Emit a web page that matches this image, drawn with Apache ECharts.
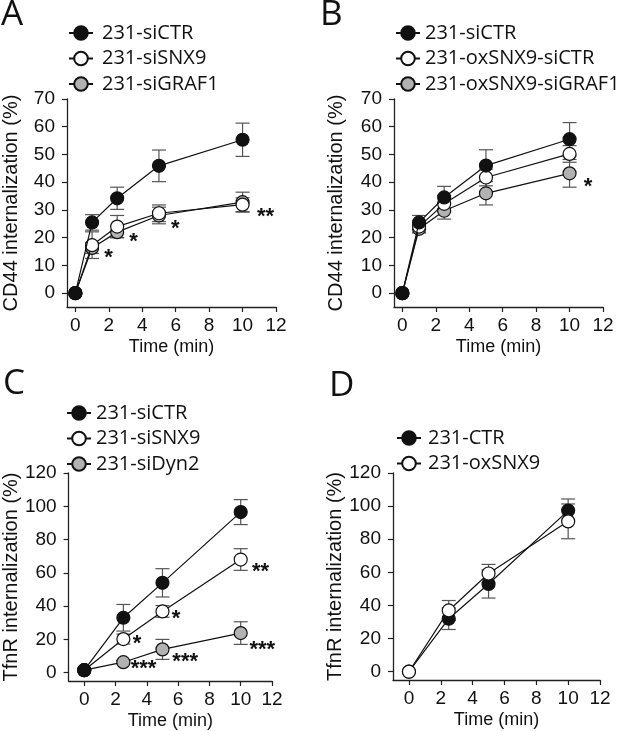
<!DOCTYPE html>
<html>
<head>
<meta charset="utf-8">
<script src="https://cdn.jsdelivr.net/npm/echarts@6/dist/echarts.min.js"></script>
<style>
html,body{margin:0;padding:0;background:#fff;}
#chart{width:633px;height:731px;}
</style>
</head>
<body>
<div id="chart"></div>
<script>
// ---------- data ----------
const xTicks = [0, 2, 4, 6, 8, 10, 12];
const yTicksCD44 = [0, 10, 20, 30, 40, 50, 60, 70];
const yTicksTfnR = [0, 20, 40, 60, 80, 100, 120];

const timeAB = [0, 1, 2.5, 5, 10];
const A_siCTR = [0, 25.5, 34.2, 45.9, 55.3];
const A_siCTR_err = [0, 2.8, 4.0, 5.7, 6.0];
const A_siSNX9 = [0, 17.3, 24.0, 28.8, 31.9];
const A_siSNX9_err = [0, 4.8, 4.0, 3.0, 2.5];
const A_siGRAF1 = [0, 16.3, 22.0, 28.0, 32.8];
const A_siGRAF1_err = [0, 2.0, 2.0, 3.0, 3.6];

const B_siCTR = [0, 25.5, 34.5, 46.0, 55.5];
const B_siCTR_err = [0, 2.5, 4.0, 5.7, 6.0];
const B_oxSNX9_siCTR = [0, 24.0, 32.2, 41.7, 50.2];
const B_oxSNX9_siCTR_err = [0, 2.0, 3.0, 3.0, 3.0];
const B_oxSNX9_siGRAF1 = [0, 23.2, 29.7, 36.0, 43.2];
const B_oxSNX9_siGRAF1_err = [0, 1.5, 3.0, 4.2, 5.0];

const timeCD = [0, 2.5, 5, 10];
const C_siCTR = [1.5, 33.0, 54.0, 96.5];
const C_siCTR_err = [0, 8.0, 8.5, 7.5];
const C_siSNX9 = [1.5, 20.2, 36.8, 68.0];
const C_siSNX9_err = [0, 3.0, 3.5, 6.5];
const C_siDyn2 = [1.5, 6.3, 14.0, 23.8];
const C_siDyn2_err = [0, 1.0, 6.0, 6.8];

const D_CTR = [0, 32.0, 53.0, 97.3];
const D_CTR_err = [0, 6.5, 8.5, 7.0];
const D_oxSNX9 = [0, 37.0, 59.3, 90.8];
const D_oxSNX9_err = [0, 6.0, 5.5, 10.5];

// significance marks: [x, y, text]
const starsA = [[1.98, 14.4, '*'], [3.48, 20.4, '*'], [5.98, 25.0, '*'], [11.37, 29.4, '**']];
const starsB = [[11.1, 40.2, '*']];
const starsC = [[3.37, 20.2, '*'], [5.86, 35.3, '*'], [11.27, 63.5, '**'],
                [3.79, 5.0, '***'], [6.45, 9.3, '***'], [11.38, 16.9, '***']];

// ---------- helpers ----------
const ARIAL = 'Liberation Sans, Arial, sans-serif';
const HUMAN = 'Open Sans, Noto Sans, sans-serif';
const INK = '#111';
const FILL = {black: '#111', white: '#fff', gray: '#b2b2b2'};

function pairs(xs, ys) { return xs.map((x, i) => [x, ys[i]]); }
function errData(xs, ys, es) {
  const out = [];
  xs.forEach((x, i) => { if (es[i] > 0) out.push([x, ys[i] - es[i], ys[i] + es[i]]); });
  return out;
}

function lineSeries(name, idx, xs, ys, fill, z) {
  return {
    type: 'line', name: name, xAxisIndex: idx, yAxisIndex: idx,
    data: pairs(xs, ys), symbol: 'circle', symbolSize: 13, z: z,
    lineStyle: {color: INK, width: 1.2},
    itemStyle: {color: fill, borderColor: INK, borderWidth: 1.2},
    emphasis: {disabled: true}, animation: false
  };
}
function errSeries(idx, xs, ys, es) {
  return {
    type: 'custom', xAxisIndex: idx, yAxisIndex: idx, z: 1, silent: true,
    data: errData(xs, ys, es), encode: {x: 0, y: [1, 2]}, animation: false,
    renderItem: function (params, api) {
      const x = api.value(0);
      const lo = api.coord([x, api.value(1)]);
      const hi = api.coord([x, api.value(2)]);
      const hw = 7;
      const st = {stroke: '#555', lineWidth: 1.2};
      return {type: 'group', children: [
        {type: 'line', shape: {x1: hi[0], y1: hi[1], x2: lo[0], y2: lo[1]}, style: st},
        {type: 'line', shape: {x1: hi[0] - hw, y1: hi[1], x2: hi[0] + hw, y2: hi[1]}, style: st},
        {type: 'line', shape: {x1: lo[0] - hw, y1: lo[1], x2: lo[0] + hw, y2: lo[1]}, style: st}
      ]};
    }
  };
}
function starSeries(idx, stars) {
  return {
    type: 'custom', xAxisIndex: idx, yAxisIndex: idx, z: 10, silent: true,
    data: stars, encode: {x: 0, y: 1}, animation: false,
    renderItem: function (params, api) {
      const p = api.coord([api.value(0), api.value(1)]);
      return {type: 'text', x: p[0], y: p[1] + 5, style: {
        text: stars[params.dataIndex][2], fill: INK, font: 'bold 22px ' + ARIAL,
        textAlign: 'center', textVerticalAlign: 'middle'}};
    }
  };
}
function xAxis(idx, min) {
  return {
    type: 'value', gridIndex: idx, min: min, max: 12,
    name: 'Time (min)', nameLocation: 'middle', nameGap: 31,
    nameTextStyle: {fontSize: 18, fontFamily: ARIAL, color: INK},
    axisLine: {show: true, onZero: false, lineStyle: {color: '#222', width: 1.3}},
    axisTick: {show: true, length: 5, customValues: xTicks, lineStyle: {color: '#222', width: 1.2}},
    axisLabel: {customValues: xTicks, fontSize: 19, fontFamily: ARIAL, color: INK, margin: 9},
    splitLine: {show: false}
  };
}
function yAxis(idx, max, ticks, name, gap) {
  return {
    type: 'value', gridIndex: idx, min: -5, max: max,
    name: name, nameLocation: 'middle', nameGap: gap, nameRotate: 90,
    nameTextStyle: {fontSize: 20, fontFamily: ARIAL, color: INK},
    axisLine: {show: true, onZero: false, lineStyle: {color: '#222', width: 1.3}},
    axisTick: {show: true, length: 5, customValues: ticks, lineStyle: {color: '#222', width: 1.2}},
    axisLabel: {customValues: ticks, fontSize: 19, fontFamily: ARIAL, color: INK, margin: 12},
    splitLine: {show: false}
  };
}
function legend(names, left, top, pad) {
  return {
    data: names, orient: 'vertical', left: left, top: top,
    itemWidth: 24, itemHeight: 17, itemGap: 5.5, selectedMode: false,
    textStyle: {fontSize: 20, fontFamily: HUMAN, color: INK, lineHeight: 20, padding: [0, 0, 0, pad]}
  };
}
function letter(t, left, top) {
  return {text: t, left: left, top: top, padding: 0,
    textStyle: {fontSize: 35, fontWeight: 'normal', fontFamily: HUMAN, color: INK}};
}

const option = {
  backgroundColor: '#fff',
  animation: false,
  title: [letter('A', 1, -2), letter('B', 320, -2), letter('C', 3, 367), letter('D', 329, 369)],
  legend: [
    legend(['231-siCTR', '231-siSNX9', '231-siGRAF1'], 63, 18, 4),
    legend(['231-siCTR', '231-oxSNX9-siCTR', '231-oxSNX9-siGRAF1'], 390, 18, 0),
    legend(['231-siCTR', '231-siSNX9', '231-siDyn2'], 61, 398, 0),
    legend(['231-CTR', '231-oxSNX9'], 391, 423, 2)
  ],
  grid: [
    {left: 67, top: 99, width: 209, height: 208},
    {left: 394, top: 99, width: 209, height: 208},
    {left: 62, top: 473, width: 210, height: 209},
    {left: 393, top: 473, width: 207, height: 207}
  ],
  xAxis: [xAxis(0, -0.5), xAxis(1, -0.5), xAxis(2, -1), xAxis(3, -1)],
  yAxis: [
    yAxis(0, 70, yTicksCD44, 'CD44 internalization (%)', 46),
    yAxis(1, 70, yTicksCD44, 'CD44 internalization (%)', 48),
    yAxis(2, 120, yTicksTfnR, 'TfnR internalization (%)', 42),
    yAxis(3, 120, yTicksTfnR, 'TfnR internalization (%)', 43)
  ],
  series: [
    errSeries(0, timeAB, A_siCTR, A_siCTR_err),
    errSeries(0, timeAB, A_siSNX9, A_siSNX9_err),
    errSeries(0, timeAB, A_siGRAF1, A_siGRAF1_err),
    lineSeries('231-siGRAF1', 0, timeAB, A_siGRAF1, FILL.gray, 3),
    lineSeries('231-siSNX9', 0, timeAB, A_siSNX9, FILL.white, 4),
    lineSeries('231-siCTR', 0, timeAB, A_siCTR, FILL.black, 5),
    starSeries(0, starsA),

    errSeries(1, timeAB, B_siCTR, B_siCTR_err),
    errSeries(1, timeAB, B_oxSNX9_siCTR, B_oxSNX9_siCTR_err),
    errSeries(1, timeAB, B_oxSNX9_siGRAF1, B_oxSNX9_siGRAF1_err),
    lineSeries('231-oxSNX9-siGRAF1', 1, timeAB, B_oxSNX9_siGRAF1, FILL.gray, 3),
    lineSeries('231-oxSNX9-siCTR', 1, timeAB, B_oxSNX9_siCTR, FILL.white, 4),
    lineSeries('231-siCTR', 1, timeAB, B_siCTR, FILL.black, 5),
    starSeries(1, starsB),

    errSeries(2, timeCD, C_siCTR, C_siCTR_err),
    errSeries(2, timeCD, C_siSNX9, C_siSNX9_err),
    errSeries(2, timeCD, C_siDyn2, C_siDyn2_err),
    lineSeries('231-siDyn2', 2, timeCD, C_siDyn2, FILL.gray, 3),
    lineSeries('231-siSNX9', 2, timeCD, C_siSNX9, FILL.white, 4),
    lineSeries('231-siCTR', 2, timeCD, C_siCTR, FILL.black, 5),
    starSeries(2, starsC),

    errSeries(3, timeCD, D_CTR, D_CTR_err),
    errSeries(3, timeCD, D_oxSNX9, D_oxSNX9_err),
    lineSeries('231-CTR', 3, timeCD, D_CTR, FILL.black, 4),
    lineSeries('231-oxSNX9', 3, timeCD, D_oxSNX9, FILL.white, 5)
  ]
};

const chart = echarts.init(document.getElementById('chart'), null, {renderer: 'canvas'});
chart.setOption(option);
</script>
</body>
</html>
